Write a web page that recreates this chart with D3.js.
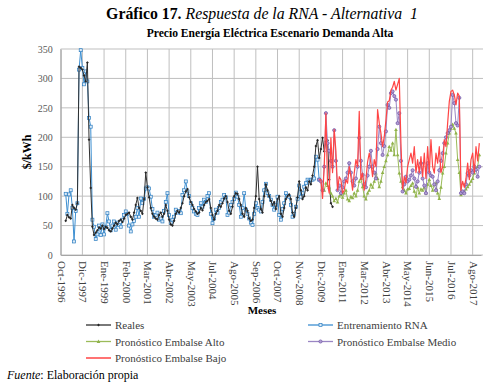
<!DOCTYPE html>
<html><head><meta charset="utf-8">
<script src="https://cdn.jsdelivr.net/npm/d3@7/dist/d3.min.js"></script>
<style>
html,body{margin:0;padding:0;background:#fff;}
svg{display:block;}
svg text{font-family:"Liberation Serif","DejaVu Serif",serif;}
</style></head>
<body>
<svg id="c" width="485" height="382"></svg>
<script>
// ---------- DATA ----------
const xLabels = ["Oct-1996","Dic-1997","Ene-1999","Feb-2000","Mar-2001","Abr-2002","May-2003","Jul-2004","Ago-2005","Sep-2006","Oct-2007","Nov-2008","Dic-2009","Ene-2011","Mar-2012","Abr-2013","May-2014","Jun-2015","Jul-2016","Ago-2017"];
const labelStep = 13;          // months (categories) between labels
const nCategories = 252;
const yTicks = [0,50,100,150,200,250,300,350];

const realesStart = 3;
const reales = [58,68,64,62,85,80,77,88,320,318,
 315,305,295,327,196,114,48,34,38,42,
 47,45,50,44,48,46,42,40,45,50,
 55,52,58,60,56,62,68,70,72,65,
 60,72,85,97,80,75,70,95,140,115,
 98,80,70,65,62,60,68,72,65,70,
 85,75,60,52,50,58,70,75,72,80,
 88,100,108,112,98,90,85,78,74,70,
 72,80,76,85,90,92,95,80,68,60,
 70,75,85,82,88,96,100,90,75,70,
 82,100,105,104,95,85,70,65,80,75,
 62,58,60,80,100,150,95,78,72,100,
 120,110,100,92,85,90,78,95,100,70,
 65,80,95,100,103,95,72,65,80,98,
 125,110,95,100,115,110,125,120,135,150,
 185,195,165,180,199,176,193,195,128,88,82];

const entrenStart = 3;
const entrenamiento = [104,70,103,110,80,23,75,88,315,348,
 318,290,312,295,233,218,60,48,27,35,
 50,34,52,35,48,71,57,42,50,57,
 43,55,51,48,60,68,74,70,50,40,
 52,58,65,80,65,96,88,95,113,115,
 113,99,78,65,68,72,60,62,57,75,
 90,105,68,55,60,65,77,72,75,71,
 102,110,125,108,100,88,80,74,70,68,
 80,88,82,94,90,100,105,70,54,62,
 77,72,80,90,94,102,98,68,72,85,
 90,95,106,99,85,65,80,105,77,70,
 62,55,51,70,88,80,77,74,90,110,
 121,105,100,94,85,77,85,99,68,60,
 78,88,105,100,99,85,65,70,82,95,
 118,99,105,116,122,128,125,128,128,130,
 167,162,128];

const altoStart = 158;
const alto = [110,122,118,115,105,100,92,96,90,100,
 103,98,105,110,95,92,99,97,105,100,
 110,125,130,116,100,95,105,110,120,115,
 125,139,130,116,125,140,150,160,170,184,
 178,190,170,213,170,139,125,116,110,105,
 112,113,118,122,108,100,115,105,112,110,
 115,105,120,128,118,110,120,122,105,96,
 115,139,150,173,190,207,215,222,215,207,
 162,140,102,105,108,112,116,120,125,130,
 139,145,150,170];

const medioStart = 155;
const medio = [128,125,110,150,241,190,177,160,150,212,
 160,110,118,105,115,125,130,140,156,140,
 125,118,130,150,199,160,136,120,115,135,
 150,177,150,140,130,180,218,190,170,185,
 210,255,250,275,278,270,264,224,241,160,
 108,120,133,125,128,135,144,130,116,125,
 140,156,130,118,105,156,140,135,133,120,
 110,125,144,160,173,190,200,207,212,218,
 272,258,224,220,267,105,108,105,120,139,
 135,144,140,150,145,133,150];

const bajoStart = 155;
const bajo = [128,128,96,150,241,120,105,199,140,213,
 177,110,133,128,105,110,128,122,150,133,
 110,139,162,150,244,128,139,110,128,158,
 173,156,133,162,150,247,224,207,184,201,
 229,260,262,280,285,295,280,290,300,190,
 112,133,122,150,162,173,156,184,140,162,
 140,167,133,173,130,184,140,196,150,139,
 173,156,184,140,150,196,184,224,261,278,
 280,272,255,275,270,110,125,115,130,156,
 128,162,173,140,184,160,190];

// ---------- CHART ----------
const FF = "'Liberation Serif','DejaVu Serif',serif";
const svg = d3.select("#c");
svg.append("rect").attr("width",485).attr("height",382).attr("fill","#fff");

const x = d3.scaleLinear().domain([0,nCategories]).range([60.7,481]);
const y = d3.scaleLinear().domain([0,350]).range([255,49]);
const tickIdx = xLabels.map((d,i)=>i*labelStep);

// titles
const t = svg.append("text").attr("x",262).attr("y",19).attr("text-anchor","middle")
  .attr("font-size",15.8).attr("fill","#000").attr("font-family",FF);
t.append("tspan").attr("font-weight","bold").text("Gráfico 17.");
t.append("tspan").attr("font-style","italic").text(" Respuesta de la RNA - Alternativa\u00a0 1");
svg.append("text").attr("x",270).attr("y",37).attr("text-anchor","middle").attr("font-family",FF)
  .attr("font-size",11.6).attr("font-weight","bold").attr("fill","#000")
  .text("Precio Energía Eléctrica Escenario Demanda Alta");

// grid
const g = svg.append("g");
g.selectAll("line.h").data(yTicks).join("line")
  .attr("x1",x(0)).attr("x2",483).attr("y1",d=>y(d)).attr("y2",d=>y(d))
  .attr("stroke","#bfbfbf").attr("stroke-width",1);
g.selectAll("line.v").data(tickIdx).join("line")
  .attr("x1",d=>x(d)).attr("x2",d=>x(d)).attr("y1",y(350)).attr("y2",y(0))
  .attr("stroke","#bfbfbf").attr("stroke-width",1);

// axes
const yAxis = svg.append("g").attr("transform",`translate(${x(0)},0)`)
  .call(d3.axisLeft(y).tickValues(yTicks).tickSize(0).tickPadding(8));
yAxis.attr("font-family",FF);
yAxis.select(".domain").attr("stroke","#a6a6a6");
yAxis.selectAll("text").attr("font-family",FF).attr("font-size",10).attr("fill","#595959");

const xAxis = svg.append("g").attr("transform",`translate(0,${y(0)})`)
  .call(d3.axisBottom(x).tickValues(tickIdx).tickFormat((d,i)=>xLabels[i]).tickSize(0));
xAxis.attr("font-family",FF);
xAxis.select(".domain").attr("stroke","#a6a6a6");
xAxis.selectAll("text").attr("font-family",FF).attr("font-size",11).attr("fill","#404040")
  .attr("transform","rotate(90)").attr("text-anchor","start")
  .attr("x",6).attr("y",0).attr("dy","0.33em");

svg.append("text").attr("transform","translate(31,152) rotate(-90)").attr("text-anchor","middle").attr("font-family",FF)
  .attr("font-size",12).attr("font-weight","bold").attr("fill","#000").text("$/kWh");
svg.append("text").attr("x",262).attr("y",314).attr("text-anchor","middle").attr("font-family",FF)
  .attr("font-size",11).attr("font-weight","bold").attr("fill","#000").text("Meses");

// series
function pts(arr,start){return arr.map((v,i)=>({i:start+i,v}));}
const line = d3.line().x(d=>x(d.i)).y(d=>y(d.v));
const S = {
  entren:{data:pts(entrenamiento,entrenStart),color:"#3d8fd1",w:1},
  reales:{data:pts(reales,realesStart),color:"#303030",w:1},
  alto:{data:pts(alto,altoStart),color:"#9bbb59",w:1},
  medio:{data:pts(medio,medioStart),color:"#9a86c4",w:1},
  bajo:{data:pts(bajo,bajoStart),color:"#ff4545",w:1.2}
};
const plot = svg.append("g");
function drawLine(s){plot.append("path").datum(s.data).attr("d",line)
  .attr("fill","none").attr("stroke",s.color).attr("stroke-width",s.w).attr("stroke-linejoin","round");}
function square(sel,cx,cy){sel.append("rect").attr("x",cx-1.5).attr("y",cy-1.5).attr("width",3).attr("height",3)
  .attr("fill","#dcebf8").attr("stroke","#2a7cc0").attr("stroke-width",0.7);}
function diamond(sel,cx,cy){sel.append("path").attr("d",`M${cx},${cy-1.4}L${cx+1.4},${cy}L${cx},${cy+1.4}L${cx-1.4},${cy}Z`).attr("fill","#262626");}
function tri(sel,cx,cy){sel.append("path").attr("d",`M${cx},${cy-1.9}L${cx+1.8},${cy+1.4}L${cx-1.8},${cy+1.4}Z`).attr("fill","#8fb24a");}
function circ(sel,cx,cy){sel.append("circle").attr("cx",cx).attr("cy",cy).attr("r",1.6).attr("fill","#b09ed3").attr("stroke","#6f52a3").attr("stroke-width",0.7);}

drawLine(S.entren);
S.entren.data.forEach(d=>square(plot,x(d.i),y(d.v)));
drawLine(S.reales);
S.reales.data.forEach(d=>diamond(plot,x(d.i),y(d.v)));
drawLine(S.alto);
S.alto.data.forEach(d=>tri(plot,x(d.i),y(d.v)));
drawLine(S.medio);
S.medio.data.forEach(d=>circ(plot,x(d.i),y(d.v)));
drawLine(S.bajo);

// legend
const leg = svg.append("g").attr("font-size",11).attr("fill","#404040").attr("font-family",FF);
const items = [
  {name:"Reales",s:S.reales,m:diamond,lx:86,ly:325},
  {name:"Entrenamiento RNA",s:S.entren,m:square,lx:308,ly:325},
  {name:"Pronóstico Embalse Alto",s:S.alto,m:tri,lx:86,ly:341.5},
  {name:"Pronóstico Embalse Medio",s:S.medio,m:circ,lx:308,ly:341.5},
  {name:"Pronóstico Embalse Bajo",s:S.bajo,m:null,lx:86,ly:358}
];
items.forEach(it=>{
  leg.append("line").attr("x1",it.lx).attr("x2",it.lx+25).attr("y1",it.ly).attr("y2",it.ly)
    .attr("stroke",it.s.color).attr("stroke-width",it.s.w+0.3);
  if(it.m) it.m(leg,it.lx+12.5,it.ly);
  leg.append("text").attr("x",it.lx+29).attr("y",it.ly+4).attr("fill","#404040").attr("font-family",FF).text(it.name);
});

const f = svg.append("text").attr("x",7).attr("y",379).attr("font-size",12).attr("fill","#000").attr("font-family",FF);
f.append("tspan").attr("font-style","italic").text("Fuente");
f.append("tspan").text(": Elaboración propia");
</script>
</body></html>
